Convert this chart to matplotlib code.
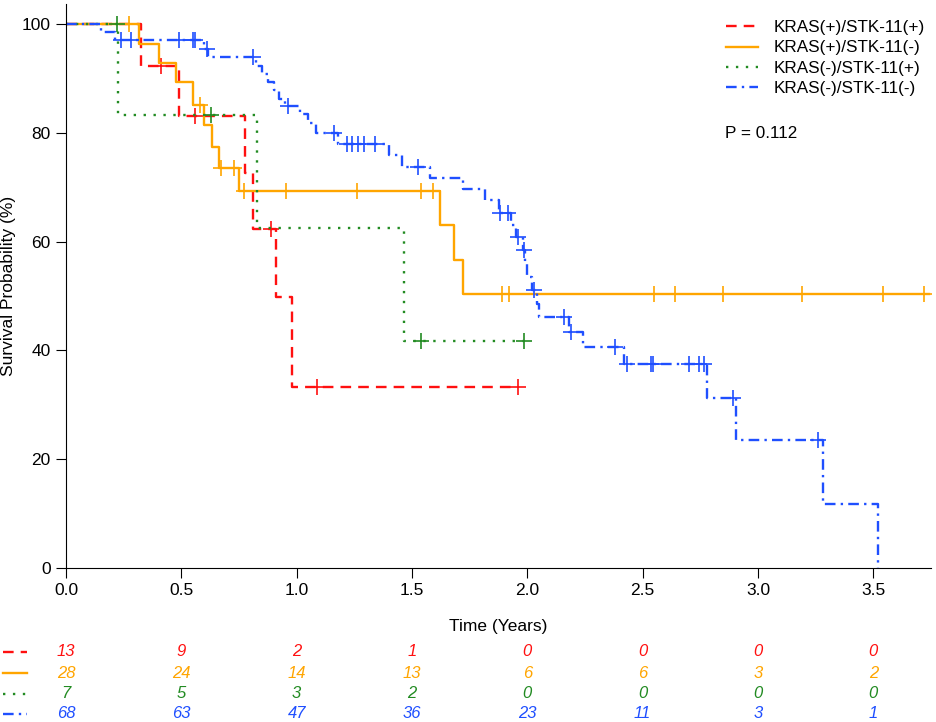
#!/usr/bin/env python3
import numpy as np
import matplotlib
matplotlib.use('Agg')
from matplotlib import pyplot as plt
from matplotlib.lines import Line2D
import matplotlib.transforms as mtransforms

plt.rcParams['font.family'] = ['Liberation Sans', 'DejaVu Sans']

labels = ['KRAS(+)/STK-11(+)', 'KRAS(+)/STK-11(-)', 'KRAS(-)/STK-11(+)', 'KRAS(-)/STK-11(-)']
colors = ['#ff1010', '#ffa500', '#228b22', '#1f4fff']

# step times (years) and survival (%) right after each step
red_t = [0.327, 0.49, 0.777, 0.81, 0.91, 0.98]
red_s = [92.3, 83.1, 72.7, 62.3, 49.8, 33.2]
red_cens = [0.41, 0.56, 0.89, 1.09, 1.96]
red_end = 1.96

orange_t = [0.315, 0.405, 0.475, 0.552, 0.60, 0.634, 0.665, 0.75, 1.62, 1.68, 1.72]
orange_s = [96.4, 92.9, 89.3, 85.1, 81.4, 77.4, 73.6, 69.3, 63.0, 56.7, 50.4]
orange_cens = [0.275, 0.58, 0.67, 0.73, 0.77, 0.955, 1.26, 1.54, 1.59, 1.89, 1.92,
               2.55, 2.64, 2.85, 3.19, 3.54, 3.72]
orange_end = 3.74

green_t = [0.226, 0.83, 1.465]
green_s = [83.3, 62.5, 41.7]
green_cens = [0.22, 0.63, 1.54, 1.985]
green_end = 1.985

blue_t = [0.15, 0.213, 0.60, 0.615, 0.825, 0.85, 0.875, 0.90, 0.925, 0.95, 1.015,
          1.05, 1.085, 1.18, 1.40, 1.457, 1.58, 1.72, 1.815, 1.875, 1.93, 1.95,
          1.98, 1.99, 2.0, 2.02, 2.04, 2.05, 2.18, 2.24, 2.42, 2.78, 2.905, 3.28, 3.52]
blue_s = [98.5, 97.0, 95.5, 93.9, 92.3, 90.8, 89.3, 87.8, 86.3, 85.0, 83.4,
          81.8, 80.0, 78.0, 75.9, 73.7, 71.7, 69.7, 67.6, 65.3, 63.0, 60.8,
          58.5, 56.0, 53.5, 51.1, 48.6, 46.2, 43.4, 40.6, 37.5, 31.2, 23.5, 11.8, 0.0]
blue_cens = [0.237, 0.28, 0.49, 0.55, 0.56, 0.61, 0.81, 0.963, 1.16, 1.22, 1.24,
             1.265, 1.29, 1.34, 1.525, 1.88, 1.915, 1.96, 1.985, 2.03, 2.16, 2.19,
             2.38, 2.43, 2.535, 2.545, 2.70, 2.745, 2.765, 2.89, 3.26]
blue_end = 3.52

times = [red_t, orange_t, green_t, blue_t]
survs = [red_s, orange_s, green_s, blue_s]
cens = [red_cens, orange_cens, green_cens, blue_cens]
ends = [red_end, orange_end, green_end, blue_end]

risk_times = [0.0, 0.5, 1.0, 1.5, 2.0, 2.5, 3.0, 3.5]
at_risk = [
    [13, 9, 2, 1, 0, 0, 0, 0],
    [28, 24, 14, 13, 6, 6, 3, 2],
    [7, 5, 3, 2, 0, 0, 0, 0],
    [68, 63, 47, 36, 23, 11, 3, 1],
]

styles = [
    dict(linestyle=(0, (4.5, 3.0))),
    dict(linestyle='-'),
    dict(linestyle=(0, (1.0, 3.2))),
    dict(linestyle=(0, (4.5, 2.2, 1.0, 2.2))),
]

fig = plt.figure(figsize=(9.36, 7.22), dpi=100)
ax = fig.add_axes([66 / 936, 1 - 568 / 722, 865 / 936, 564 / 722])

for t, s, c, e, col, st, lab in zip(times, survs, cens, ends, colors, styles, labels):
    x = np.concatenate([[0], t, [e]])
    y = np.concatenate([[100], s, [s[-1]]])
    ax.step(x, y, where='post', color=col, lw=1.7, label=lab, **st)
    # censor marks sit on the curve
    xs = np.array(c)
    idx = np.searchsorted(np.array(t), xs, side='right')
    ys = np.concatenate([[100], s])[idx]
    ax.plot(xs, ys, '+', color=col, ms=11, mew=1.2, ls='none')

ax.set_xlim(0, 3.75)
ax.set_ylim(0, 103.7)
ax.set_xticks(risk_times)
ax.set_xticklabels(['%.1f' % v for v in risk_times])
ax.set_yticks([0, 20, 40, 60, 80, 100])
for sp in ['top', 'right']:
    ax.spines[sp].set_visible(False)
ax.tick_params(labelsize=12.5, length=7, direction='out', pad=4)
ax.set_ylabel('Survival Probability (%)', fontsize=12.5, labelpad=4)
ax.set_xlabel('Time (Years)', fontsize=12.5, labelpad=15)

handles = [Line2D([], [], color=col, lw=1.7, **st) for col, st in zip(colors, styles)]
ax.legend(handles, labels, loc='upper left', bbox_to_anchor=(711 / 936, 1 - 5 / 722),
          bbox_transform=fig.transFigure, frameon=False, fontsize=12.3,
          handlelength=1.85, handletextpad=0.9, labelspacing=0.3)

fig.text(725 / 936, 1 - 133 / 722, 'P = 0.112', fontsize=12.3, va='center', ha='left')

# risk table
trans = mtransforms.blended_transform_factory(ax.transData, fig.transFigure)
row_y = [652, 673, 694, 714]
for i in range(4):
    yy = 1 - row_y[i] / 722
    for tx, n in zip(risk_times, at_risk[i]):
        fig.text(tx, yy, str(n), transform=trans, color=colors[i], fontsize=12,
                 style='italic', ha='center', va='center')
    fig.add_artist(Line2D([3 / 936, 27 / 936], [yy, yy], color=colors[i], lw=1.7,
                          transform=fig.transFigure, **styles[i]))

fig.savefig('out.png', dpi=100)
